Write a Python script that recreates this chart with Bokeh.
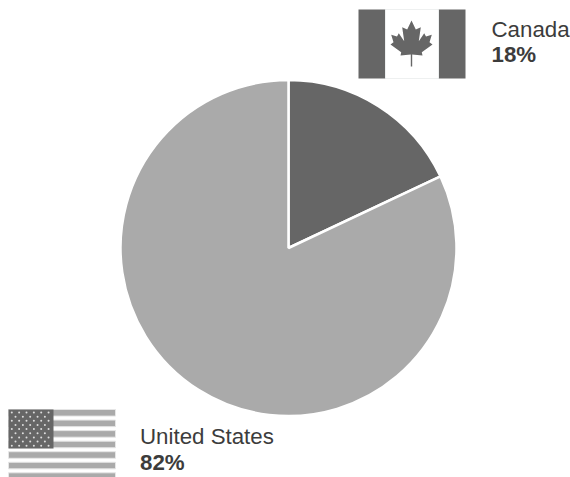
import math
from bokeh.plotting import figure
from bokeh.models import Range1d
from bokeh.embed import file_html
from bokeh.resources import INLINE
from bokeh.core.properties import value

countries = ["Canada", "United States"]
shares = [18, 82]
colors = ["#666666", "#aaaaaa"]
W, H = 570, 477
FONT = value("Liberation Sans")
TEXT = "#3c3c3c"
LABEL_SIZE = "22.3px"

p = figure(width=W, height=H, output_backend="svg", toolbar_location=None,
           x_range=Range1d(0, W), y_range=Range1d(0, H), min_border=0)
p.axis.visible = False
p.grid.visible = False
p.outline_line_color = None

def Y(py):
    return H - py

# pie, clockwise from twelve o'clock
cx, cy, r = 288, 247.5, 168
start = math.pi / 2
for name, share, col in zip(countries, shares, colors):
    end = start - share / sum(shares) * 2 * math.pi
    p.wedge(x=cx, y=Y(cy), radius=r, start_angle=end, end_angle=start,
            fill_color=col, line_color="white", line_width=2.5)
    start = end

# Canadian flag
p.quad(left=358, right=465, top=Y(9), bottom=Y(78), fill_color="#666666", line_color=None)
p.quad(left=385, right=438, top=Y(9), bottom=Y(78), fill_color="#ffffff", line_color="#eef0f0", line_width=1)
half = [(0, 20), (4.3, 29), (9.3, 26.7), (7.3, 40.7), (12.7, 32.7), (14.5, 36), (20.3, 34.3),
        (18, 41.7), (21, 44), (10.3, 51.7), (11, 55), (0.7, 54), (0.7, 66)]
xs = [411 + a for a, b in half] + [411 - a for a, b in reversed(half)]
ys = [Y(b) for a, b in half] + [Y(b) for a, b in reversed(half)]
p.patch(xs, ys, fill_color="#666666", line_color=None)

# American flag
for i in range(7):
    top = 409 + i * 10.55
    p.quad(left=8, right=115, top=Y(top), bottom=Y(min(top + 6.6, 477)),
           fill_color="#aaaaaa", line_color="#e6e6e6", line_width=1)
p.quad(left=8, right=53, top=Y(409), bottom=Y(448), fill_color="#666666", line_color=None)
sx, sy = [], []
for row in range(9):
    n = 6 if row % 2 == 0 else 5
    off = 0 if row % 2 == 0 else 3.7
    for c in range(n):
        sx.append(11.3 + off + c * 7.35)
        sy.append(Y(412 + row * 4.15))
p.scatter(sx, sy, size=2, fill_color="#dddddd", line_color=None)

# labels
p.text([491], [Y(29)], text=["Canada"], text_font=FONT, text_font_size=LABEL_SIZE,
       text_color=TEXT, text_baseline="middle")
p.text([491], [Y(53.5)], text=["18%"], text_font=FONT, text_font_size=LABEL_SIZE,
       text_font_style="bold", text_color=TEXT, text_baseline="middle")
p.text([139.5], [Y(436)], text=["United States"], text_font=FONT, text_font_size=LABEL_SIZE,
       text_color=TEXT, text_baseline="middle")
p.text([139.5], [Y(462)], text=["82%"], text_font=FONT, text_font_size=LABEL_SIZE,
       text_font_style="bold", text_color=TEXT, text_baseline="middle")

open("out.html", "w").write(file_html(p, INLINE))
